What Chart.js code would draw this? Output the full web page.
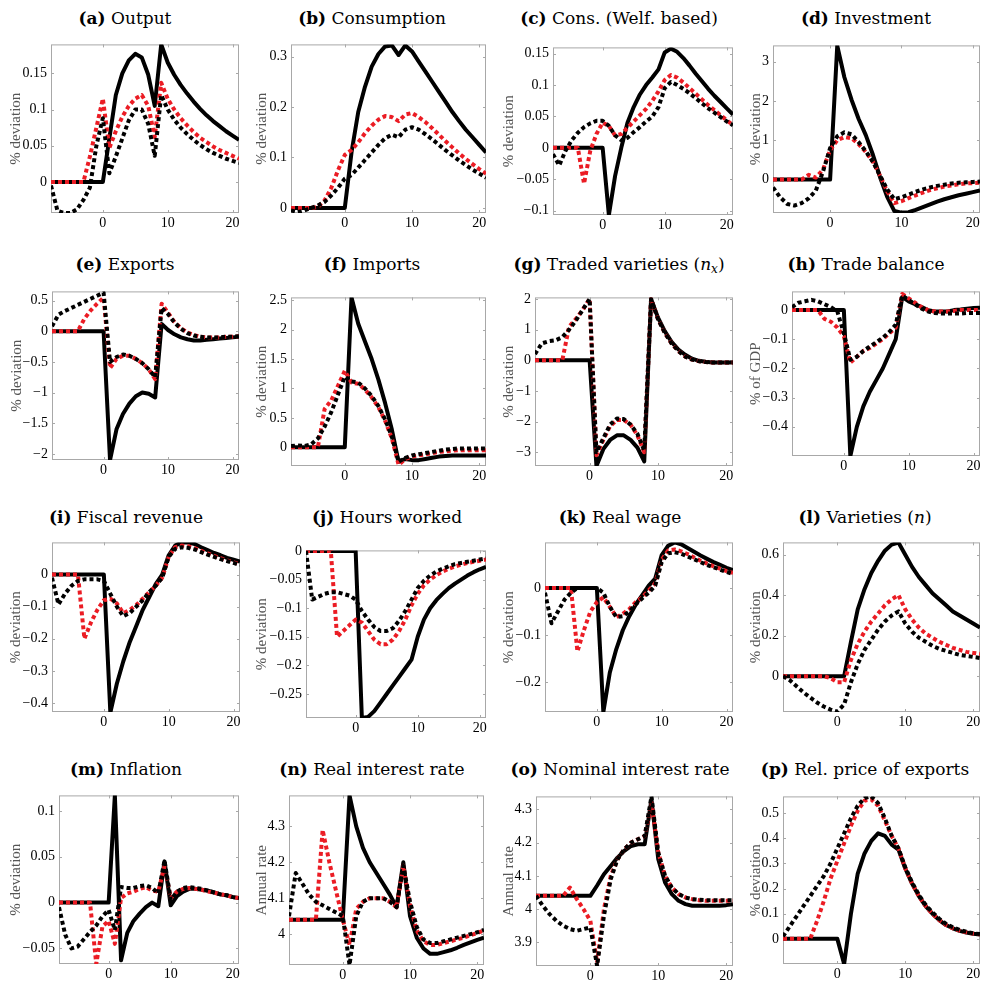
<!DOCTYPE html>
<html>
<head>
<meta charset="utf-8">
<script src="https://cdn.jsdelivr.net/npm/chart.js@4.4.0/dist/chart.umd.min.js"></script>
<style>
  body { margin: 0; background: #fff; overflow: hidden; width: 981px; height: 985px; position: relative; }
  .ttl { position: absolute; width: 320px; text-align: center; font-family: "DejaVu Serif", serif;
         font-size: 17px; line-height: 20px; color: #000; white-space: nowrap; }
  .ttl sub { font-size: 12px; line-height: 0; vertical-align: -3px; }
  canvas { position: absolute; }
</style>
</head>
<body>
<script>
// periods (quarters) on the x axis
const periods = [-8, -7, -6, -5, -4, -3, -2, -1, 0, 1, 2, 3, 4, 5, 6, 7, 8, 9, 10, 11, 12, 13, 14, 15, 16, 17, 18, 19, 20, 21];
const xTicks = [0, 10, 20];

// (a) Output
const outputSolid = [0, 0, 0, 0, 0, 0, 0, 0, 0, 0.06, 0.12, 0.15, 0.168, 0.177, 0.172, 0.148, 0.105, 0.19, 0.165, 0.148, 0.134, 0.122, 0.111, 0.101, 0.092, 0.084, 0.077, 0.07, 0.064, 0.058];
const outputRed = [0, 0, 0, 0, 0, 0, 0.035, 0.075, 0.115, 0.047, 0.07, 0.09, 0.105, 0.115, 0.12, 0.105, 0.062, 0.137, 0.115, 0.1, 0.088, 0.078, 0.069, 0.061, 0.055, 0.049, 0.044, 0.04, 0.036, 0.032];
const outputDash = [-0.005, -0.04, -0.043, -0.043, -0.038, -0.025, -0.008, 0.05, 0.088, 0.012, 0.035, 0.06, 0.085, 0.1, 0.1, 0.08, 0.036, 0.12, 0.1, 0.086, 0.075, 0.066, 0.058, 0.051, 0.045, 0.04, 0.036, 0.032, 0.029, 0.026];
const outputTicks = [0, 0.05, 0.1, 0.15];
const outputRange = [-0.043, 0.19];

// (b) Consumption
const consSolid = [0, 0, 0, 0, 0, 0, 0, 0, 0, 0.11, 0.19, 0.24, 0.28, 0.305, 0.32, 0.322, 0.303, 0.322, 0.31, 0.29, 0.27, 0.25, 0.23, 0.21, 0.19, 0.172, 0.155, 0.14, 0.125, 0.11];
const consRed = [0, 0, 0, 0, 0.002, 0.015, 0.04, 0.075, 0.105, 0.115, 0.13, 0.148, 0.163, 0.175, 0.182, 0.18, 0.172, 0.185, 0.188, 0.18, 0.17, 0.158, 0.145, 0.132, 0.12, 0.108, 0.097, 0.087, 0.077, 0.068];
const consDash = [-0.005, -0.008, -0.005, 0, 0.005, 0.012, 0.025, 0.04, 0.058, 0.065, 0.08, 0.095, 0.11, 0.125, 0.138, 0.145, 0.14, 0.155, 0.16, 0.155, 0.146, 0.136, 0.125, 0.114, 0.104, 0.094, 0.085, 0.076, 0.068, 0.06];
const consTicks = [0, 0.1, 0.2, 0.3];
const consRange = [-0.01, 0.324];

// (c) Cons. (Welf. based)
const welfSolid = [0, 0, 0, 0, 0, 0, 0, 0, 0, -0.107, -0.045, 0.0, 0.04, 0.065, 0.085, 0.1, 0.112, 0.125, 0.152, 0.158, 0.153, 0.143, 0.131, 0.118, 0.106, 0.094, 0.083, 0.073, 0.063, 0.053];
const welfRed = [0, 0, 0, 0, 0, -0.057, -0.005, 0.022, 0.04, 0.035, 0.02, 0.022, 0.032, 0.042, 0.052, 0.062, 0.075, 0.09, 0.108, 0.116, 0.112, 0.104, 0.095, 0.086, 0.077, 0.068, 0.06, 0.052, 0.044, 0.036];
const welfDash = [-0.01, -0.028, -0.005, 0.012, 0.024, 0.033, 0.039, 0.043, 0.043, 0.035, 0.02, 0.012, 0.016, 0.025, 0.033, 0.042, 0.05, 0.065, 0.095, 0.105, 0.1, 0.094, 0.087, 0.079, 0.071, 0.063, 0.056, 0.049, 0.042, 0.036];
const welfTicks = [-0.1, -0.05, 0, 0.05, 0.1, 0.15];
const welfRange = [-0.107, 0.16];

// (d) Investment
const invSolid = [0, 0, 0, 0, 0, 0, 0, 0, 0, 3.4, 2.6, 2.03, 1.54, 1.13, 0.63, 0.06, -0.44, -0.8, -0.84, -0.83, -0.77, -0.7, -0.63, -0.56, -0.5, -0.45, -0.4, -0.36, -0.32, -0.28];
const invRed = [0, 0, 0, 0, 0, 0.12, 0.05, 0.25, 0.75, 1.0, 1.08, 1.05, 0.9, 0.7, 0.45, 0.1, -0.3, -0.6, -0.55, -0.47, -0.4, -0.33, -0.27, -0.22, -0.18, -0.15, -0.12, -0.1, -0.09, -0.08];
const invDash = [-0.2, -0.45, -0.62, -0.66, -0.6, -0.48, -0.28, 0.2, 0.8, 1.1, 1.2, 1.15, 0.95, 0.72, 0.45, 0.1, -0.25, -0.5, -0.45, -0.38, -0.31, -0.25, -0.2, -0.16, -0.13, -0.1, -0.08, -0.07, -0.06, -0.05];
const invTicks = [0, 1, 2, 3];
const invRange = [-0.85, 3.41];

// (e) Exports
const expSolid = [0, 0, 0, 0, 0, 0, 0, 0, 0, -2.1, -1.6, -1.35, -1.18, -1.06, -1.0, -1.02, -1.08, 0.12, 0.02, -0.05, -0.1, -0.13, -0.15, -0.15, -0.14, -0.13, -0.12, -0.11, -0.1, -0.09];
const expRed = [0, 0, 0, 0, 0, 0.2, 0.34, 0.45, 0.55, -0.6, -0.45, -0.4, -0.4, -0.45, -0.52, -0.62, -0.78, 0.45, 0.3, 0.15, 0.05, -0.02, -0.06, -0.09, -0.1, -0.1, -0.1, -0.09, -0.09, -0.08];
const expDash = [0.08, 0.27, 0.33, 0.38, 0.43, 0.48, 0.53, 0.58, 0.63, -0.5, -0.42, -0.38, -0.4, -0.45, -0.52, -0.62, -0.75, 0.38, 0.28, 0.14, 0.04, -0.03, -0.07, -0.09, -0.1, -0.1, -0.1, -0.09, -0.09, -0.08];
const expTicks = [-2, -1.5, -1, -0.5, 0, 0.5];
const expRange = [-2.1, 0.65];

// (f) Imports
const impSolid = [0, 0, 0, 0, 0, 0, 0, 0, 0, 2.55, 2.1, 1.8, 1.5, 1.15, 0.75, 0.3, -0.25, -0.2, -0.22, -0.22, -0.2, -0.18, -0.16, -0.15, -0.14, -0.14, -0.14, -0.14, -0.14, -0.14];
const impRed = [0, 0, 0, 0, 0, 0.65, 0.8, 1.05, 1.3, 1.1, 1.08, 0.98, 0.85, 0.68, 0.45, 0.15, -0.3, -0.2, -0.16, -0.14, -0.12, -0.1, -0.08, -0.07, -0.06, -0.05, -0.05, -0.05, -0.05, -0.05];
const impDash = [0.02, 0.03, 0.02, 0.05, 0.15, 0.35, 0.6, 0.9, 1.2, 1.12, 1.1, 1.0, 0.87, 0.7, 0.47, 0.18, -0.25, -0.18, -0.14, -0.12, -0.1, -0.08, -0.06, -0.04, -0.03, -0.02, -0.02, -0.02, -0.02, -0.02];
const impTicks = [0, 0.5, 1, 1.5, 2, 2.5];
const impRange = [-0.32, 2.55];

// (g) Traded varieties (n_x)
const nxSolid = [0, 0, 0, 0, 0, 0, 0, 0, 0, -3.45, -2.9, -2.6, -2.45, -2.45, -2.6, -2.85, -3.3, 2.0, 1.4, 0.95, 0.6, 0.35, 0.18, 0.05, -0.02, -0.05, -0.07, -0.07, -0.07, -0.07];
const nxRed = [0, 0, 0, 0, 0, 1.1, 1.35, 1.65, 2.0, -3.1, -2.6, -2.15, -1.95, -1.95, -2.1, -2.45, -3.0, 2.0, 1.35, 0.9, 0.55, 0.3, 0.12, 0.02, -0.03, -0.06, -0.07, -0.07, -0.07, -0.07];
const nxDash = [0.2, 0.55, 0.62, 0.65, 0.75, 1.0, 1.3, 1.65, 2.0, -3.0, -2.55, -2.1, -1.9, -1.92, -2.1, -2.4, -2.95, 2.0, 1.35, 0.9, 0.55, 0.3, 0.12, 0.02, -0.03, -0.06, -0.07, -0.07, -0.07, -0.07];
const nxTicks = [-3, -2, -1, 0, 1, 2];
const nxRange = [-3.45, 2.05];

// (h) Trade balance
const tbSolid = [0, 0, 0, 0, 0, 0, 0, 0, 0, -0.5, -0.4, -0.33, -0.28, -0.24, -0.2, -0.15, -0.1, 0.045, 0.03, 0.02, 0.01, 0.0, -0.005, -0.005, -0.005, 0.0, 0.002, 0.005, 0.007, 0.008];
const tbRed = [0, 0, 0, 0, 0, -0.03, -0.04, -0.06, -0.09, -0.18, -0.16, -0.14, -0.13, -0.115, -0.1, -0.08, -0.06, 0.055, 0.04, 0.025, 0.01, 0.0, -0.005, -0.005, -0.005, -0.003, 0.0, 0.0, 0.0, 0.0];
const tbDash = [0.01, 0.025, 0.03, 0.035, 0.03, 0.02, 0.01, -0.005, -0.08, -0.17, -0.16, -0.14, -0.125, -0.11, -0.095, -0.075, -0.05, 0.05, 0.035, 0.02, 0.005, -0.005, -0.01, -0.012, -0.012, -0.012, -0.012, -0.01, -0.01, -0.01];
const tbTicks = [-0.4, -0.3, -0.2, -0.1, 0];
const tbRange = [-0.5, 0.064];

// (i) Fiscal revenue
const fiscSolid = [0, 0, 0, 0, 0, 0, 0, 0, 0, -0.43, -0.34, -0.27, -0.21, -0.16, -0.11, -0.07, -0.03, 0.0, 0.06, 0.09, 0.1, 0.1, 0.095, 0.085, 0.076, 0.067, 0.06, 0.052, 0.046, 0.04];
const fiscRed = [0, 0, 0, 0, 0, -0.2, -0.15, -0.11, -0.08, -0.075, -0.09, -0.12, -0.11, -0.095, -0.075, -0.055, -0.035, -0.01, 0.055, 0.085, 0.09, 0.088, 0.082, 0.074, 0.066, 0.058, 0.051, 0.044, 0.038, 0.032];
const fiscDash = [-0.01, -0.093, -0.06, -0.035, -0.02, -0.015, -0.015, -0.015, -0.02, -0.06, -0.1, -0.13, -0.12, -0.1, -0.08, -0.055, -0.035, -0.01, 0.055, 0.08, 0.085, 0.083, 0.078, 0.07, 0.062, 0.055, 0.048, 0.042, 0.036, 0.03];
const fiscTicks = [-0.4, -0.3, -0.2, -0.1, 0];
const fiscRange = [-0.428, 0.1];

// (j) Hours worked
const hoursSolid = [0, 0, 0, 0, 0, 0, 0, 0, 0, -0.292, -0.29, -0.28, -0.265, -0.25, -0.235, -0.22, -0.205, -0.19, -0.15, -0.12, -0.1, -0.086, -0.075, -0.065, -0.057, -0.05, -0.043, -0.037, -0.032, -0.028];
const hoursRed = [0, 0, 0, 0, 0, -0.15, -0.14, -0.13, -0.12, -0.125, -0.14, -0.155, -0.163, -0.163, -0.155, -0.14, -0.12, -0.095, -0.075, -0.06, -0.05, -0.042, -0.036, -0.031, -0.027, -0.024, -0.021, -0.019, -0.017, -0.015];
const hoursDash = [0, -0.085, -0.08, -0.075, -0.072, -0.072, -0.075, -0.078, -0.085, -0.105, -0.12, -0.133, -0.14, -0.14, -0.135, -0.122, -0.105, -0.085, -0.065, -0.052, -0.043, -0.036, -0.031, -0.027, -0.023, -0.021, -0.019, -0.017, -0.015, -0.013];
const hoursTicks = [-0.25, -0.2, -0.15, -0.1, -0.05, 0];
const hoursRange = [-0.292, 0.001];

// (k) Real wage
const wageSolid = [0, 0, 0, 0, 0, 0, 0, 0, 0, -0.264, -0.18, -0.13, -0.09, -0.06, -0.035, -0.015, 0.005, 0.02, 0.07, 0.09, 0.097, 0.093, 0.085, 0.077, 0.069, 0.062, 0.055, 0.049, 0.043, 0.038];
const wageRed = [0, 0, 0, 0, 0, -0.135, -0.09, -0.05, -0.03, -0.02, -0.04, -0.062, -0.055, -0.045, -0.03, -0.02, -0.005, 0.01, 0.06, 0.08, 0.082, 0.078, 0.072, 0.065, 0.058, 0.052, 0.046, 0.041, 0.036, 0.032];
const wageDash = [-0.01, -0.075, -0.05, -0.025, -0.01, 0, 0, 0, 0, -0.01, -0.04, -0.062, -0.06, -0.05, -0.035, -0.022, -0.01, 0.005, 0.055, 0.074, 0.076, 0.073, 0.067, 0.061, 0.055, 0.049, 0.044, 0.039, 0.034, 0.03];
const wageTicks = [-0.2, -0.1, 0];
const wageRange = [-0.264, 0.097];

// (l) Varieties (n)
const nSolid = [0, 0, 0, 0, 0, 0, 0, 0, 0, 0, 0.17, 0.33, 0.43, 0.51, 0.57, 0.62, 0.65, 0.66, 0.6, 0.54, 0.49, 0.45, 0.41, 0.38, 0.35, 0.32, 0.3, 0.28, 0.26, 0.24];
const nRed = [0, 0, 0, 0, 0, 0, 0, -0.01, -0.03, -0.03, 0.08, 0.16, 0.22, 0.27, 0.31, 0.35, 0.38, 0.4, 0.33, 0.28, 0.24, 0.21, 0.19, 0.17, 0.155, 0.14, 0.13, 0.12, 0.115, 0.11];
const nDash = [0, -0.02, -0.05, -0.08, -0.105, -0.13, -0.15, -0.165, -0.175, -0.14, -0.03, 0.06, 0.13, 0.18, 0.23, 0.27, 0.3, 0.32, 0.26, 0.22, 0.19, 0.17, 0.15, 0.135, 0.125, 0.115, 0.105, 0.1, 0.095, 0.09];
const nTicks = [0, 0.2, 0.4, 0.6];
const nRange = [-0.177, 0.661];

// (m) Inflation
const inflSolid = [0, 0, 0, 0, 0, 0, 0, 0, 0, 0.117, -0.063, -0.033, -0.02, -0.012, -0.005, 0.0, -0.004, 0.045, -0.003, 0.007, 0.012, 0.015, 0.015, 0.014, 0.013, 0.011, 0.009, 0.008, 0.006, 0.005];
const inflRed = [0, 0, 0, 0, 0, 0, -0.067, -0.026, -0.02, -0.045, 0.005, 0.01, 0.012, 0.015, 0.017, 0.013, 0.012, 0.04, 0.005, 0.012, 0.015, 0.016, 0.015, 0.014, 0.012, 0.011, 0.009, 0.008, 0.006, 0.005];
const inflDash = [-0.005, -0.035, -0.05, -0.048, -0.04, -0.032, -0.025, -0.015, -0.008, -0.03, 0.017, 0.016, 0.016, 0.018, 0.019, 0.016, 0.01, 0.046, 0.003, 0.012, 0.016, 0.017, 0.016, 0.015, 0.013, 0.011, 0.009, 0.008, 0.006, 0.005];
const inflTicks = [-0.05, 0, 0.05, 0.1];
const inflRange = [-0.067, 0.117];

// (n) Real interest rate
const rrSolid = [4.04, 4.04, 4.04, 4.04, 4.04, 4.04, 4.04, 4.04, 4.04, 4.386, 4.3, 4.24, 4.2, 4.17, 4.14, 4.11, 4.075, 4.2, 4.05, 3.99, 3.96, 3.945, 3.945, 3.95, 3.955, 3.962, 3.97, 3.977, 3.984, 3.99];
const rrRed = [4.04, 4.04, 4.04, 4.04, 4.04, 4.29, 4.2, 4.12, 4.04, 3.97, 4.07, 4.09, 4.1, 4.1, 4.1, 4.09, 4.075, 4.19, 4.08, 4.01, 3.98, 3.97, 3.97, 3.975, 3.98, 3.985, 3.99, 3.997, 4.003, 4.01];
const rrDash = [4.05, 4.17, 4.14, 4.11, 4.09, 4.08, 4.07, 4.06, 4.05, 3.914, 4.05, 4.09, 4.1, 4.1, 4.1, 4.09, 4.075, 4.19, 4.09, 4.02, 3.985, 3.975, 3.975, 3.98, 3.985, 3.99, 3.995, 4.0, 4.005, 4.012];
const rrTicks = [4, 4.1, 4.2, 4.3];
const rrRange = [3.914, 4.386];

// (o) Nominal interest rate
const nomSolid = [4.04, 4.04, 4.04, 4.04, 4.04, 4.04, 4.04, 4.04, 4.04, 4.071, 4.105, 4.13, 4.155, 4.175, 4.19, 4.195, 4.195, 4.33, 4.15, 4.08, 4.045, 4.025, 4.015, 4.01, 4.01, 4.01, 4.01, 4.01, 4.012, 4.015];
const nomRed = [4.04, 4.04, 4.04, 4.04, 4.04, 4.065, 4.03, 4.0, 3.965, 3.84, 4.0, 4.1, 4.15, 4.18, 4.2, 4.21, 4.22, 4.32, 4.17, 4.1, 4.065, 4.045, 4.035, 4.03, 4.027, 4.025, 4.025, 4.025, 4.025, 4.025];
const nomDash = [4.04, 4.01, 3.985, 3.965, 3.95, 3.94, 3.935, 3.94, 3.945, 3.829, 3.98, 4.09, 4.15, 4.18, 4.2, 4.21, 4.22, 4.339, 4.17, 4.1, 4.065, 4.045, 4.035, 4.03, 4.028, 4.027, 4.027, 4.027, 4.027, 4.027];
const nomTicks = [3.9, 4, 4.1, 4.2, 4.3];
const nomRange = [3.829, 4.339];

// (p) Rel. price of exports
const pxSolid = [0, 0, 0, 0, 0, 0, 0, 0, 0, -0.1, 0.1, 0.26, 0.34, 0.39, 0.42, 0.41, 0.375, 0.355, 0.28, 0.22, 0.17, 0.13, 0.1, 0.075, 0.055, 0.042, 0.032, 0.025, 0.02, 0.017];
const pxRed = [0, 0, 0, 0, 0, 0.07, 0.15, 0.24, 0.31, 0.38, 0.45, 0.51, 0.55, 0.555, 0.53, 0.47, 0.41, 0.36, 0.28, 0.22, 0.17, 0.13, 0.1, 0.075, 0.055, 0.042, 0.033, 0.026, 0.021, 0.018];
const pxDash = [0.01, 0.05, 0.09, 0.13, 0.17, 0.21, 0.25, 0.3, 0.36, 0.42, 0.48, 0.53, 0.56, 0.567, 0.54, 0.48, 0.41, 0.36, 0.285, 0.225, 0.175, 0.135, 0.105, 0.08, 0.06, 0.046, 0.036, 0.028, 0.022, 0.019];
const pxTicks = [0, 0.1, 0.2, 0.3, 0.4, 0.5];
const pxRange = [-0.1, 0.567];

// panel layout: plot box [left, top, right, bottom], title centre, y-label centre
const panels = [
  { t: '<b>(a)</b> Output', yl: '% deviation', s: [outputSolid, outputRed, outputDash], ticks: outputTicks, r: outputRange, box: [51, 40, 239, 213], tc: [125, 18], yc: 16 },
  { t: '<b>(b)</b> Consumption', yl: '% deviation', s: [consSolid, consRed, consDash], ticks: consTicks, r: consRange, box: [291, 40, 486, 213], tc: [372, 18], yc: 262 },
  { t: '<b>(c)</b> Cons. (Welf. based)', yl: '% deviation', s: [welfSolid, welfRed, welfDash], ticks: welfTicks, r: welfRange, box: [553, 43, 733, 215], tc: [619, 18], yc: 509 },
  { t: '<b>(d)</b> Investment', yl: '% deviation', s: [invSolid, invRed, invDash], ticks: invTicks, r: invRange, box: [773, 41, 980, 213], tc: [866, 18], yc: 756 },
  { t: '<b>(e)</b> Exports', yl: '% deviation', s: [expSolid, expRed, expDash], ticks: expTicks, r: expRange, box: [52, 287, 239, 460], tc: [125, 264], yc: 17 },
  { t: '<b>(f)</b> Imports', yl: '% deviation', s: [impSolid, impRed, impDash], ticks: impTicks, r: impRange, box: [291, 293, 486, 466], tc: [372, 264], yc: 262 },
  { t: '<b>(g)</b> Traded varieties (<i>n</i><sub><i>x</i></sub>)', yl: '% deviation', s: [nxSolid, nxRed, nxDash], ticks: nxTicks, r: nxRange, box: [535, 293, 733, 466], tc: [619, 264], yc: 509 },
  { t: '<b>(h)</b> Trade balance', yl: '% of GDP', s: [tbSolid, tbRed, tbDash], ticks: tbTicks, r: tbRange, box: [792, 287, 980, 456], tc: [866, 264], yc: 756 },
  { t: '<b>(i)</b> Fiscal revenue', yl: '% deviation', s: [fiscSolid, fiscRed, fiscDash], ticks: fiscTicks, r: fiscRange, box: [52, 538, 240, 712], tc: [126, 517], yc: 16 },
  { t: '<b>(j)</b> Hours worked', yl: '% deviation', s: [hoursSolid, hoursRed, hoursDash], ticks: hoursTicks, r: hoursRange, box: [306, 546, 486, 718], tc: [387, 517], yc: 262 },
  { t: '<b>(k)</b> Real wage', yl: '% deviation', s: [wageSolid, wageRed, wageDash], ticks: wageTicks, r: wageRange, box: [545, 538, 733, 712], tc: [620, 517], yc: 509 },
  { t: '<b>(l)</b> Varieties (<i>n</i>)', yl: '% deviation', s: [nSolid, nRed, nDash], ticks: nTicks, r: nRange, box: [783, 538, 980, 712], tc: [865, 517], yc: 756 },
  { t: '<b>(m)</b> Inflation', yl: '% deviation', s: [inflSolid, inflRed, inflDash], ticks: inflTicks, r: inflRange, box: [59, 791, 239, 964], tc: [126, 769], yc: 16 },
  { t: '<b>(n)</b> Real interest rate', yl: 'Annual rate', s: [rrSolid, rrRed, rrDash], ticks: rrTicks, r: rrRange, box: [289, 791, 484, 965], tc: [372, 769], yc: 262 },
  { t: '<b>(o)</b> Nominal interest rate', yl: 'Annual rate', s: [nomSolid, nomRed, nomDash], ticks: nomTicks, r: nomRange, box: [536, 792, 733, 966], tc: [620, 769], yc: 509 },
  { t: '<b>(p)</b> Rel. price of exports', yl: '% deviation', s: [pxSolid, pxRed, pxDash], ticks: pxTicks, r: pxRange, box: [783, 792, 980, 964], tc: [865, 769], yc: 756 }
];

const RED = 'rgb(235,28,36)';
const PAD_TOP = 8, PAD_RIGHT = 10, X_AXIS_H = 26;
const TITLE_SIZE = 15;
const tickFont = { family: '"Liberation Serif", serif', size: 14 };

function fmt(v) {
  return v < 0 ? '\u2212' + String(-v) : String(v);
}

// matlab style box with inward ticks on all four sides
const axesBox = {
  id: 'axesBox',
  beforeDatasetsDraw(chart) {
    const { ctx, chartArea: a, scales } = chart;
    ctx.save();
    ctx.strokeStyle = '#a8a8a8';
    ctx.lineWidth = 1;
    ctx.strokeRect(a.left + 0.5, a.top + 0.5, a.right - a.left - 1, a.bottom - a.top - 1);
    ctx.beginPath();
    scales.x.ticks.forEach(t => {
      const px = Math.round(scales.x.getPixelForValue(t.value)) + 0.5;
      ctx.moveTo(px, a.bottom); ctx.lineTo(px, a.bottom - 3);
      ctx.moveTo(px, a.top); ctx.lineTo(px, a.top + 3);
    });
    scales.y.ticks.forEach(t => {
      const py = Math.round(scales.y.getPixelForValue(t.value)) + 0.5;
      ctx.moveTo(a.left, py); ctx.lineTo(a.left + 3, py);
      ctx.moveTo(a.right, py); ctx.lineTo(a.right - 3, py);
    });
    ctx.stroke();
    ctx.restore();
  }
};

panels.forEach(p => {
  const [L, T, R, B] = p.box;

  const ttl = document.createElement('div');
  ttl.className = 'ttl';
  ttl.innerHTML = p.t;
  ttl.style.left = (p.tc[0] - 160) + 'px';
  ttl.style.top = (p.tc[1] - 10) + 'px';
  document.body.appendChild(ttl);

  const left = Math.round(p.yc - TITLE_SIZE * 0.6);
  const top = T - PAD_TOP;
  const cv = document.createElement('canvas');
  cv.width = R - left + PAD_RIGHT;
  cv.height = B - top + X_AXIS_H;
  cv.style.left = left + 'px';
  cv.style.top = top + 'px';
  document.body.appendChild(cv);
  const yW = L - left;

  const xy = arr => arr.map((v, i) => ({ x: periods[i], y: v }));

  new Chart(cv, {
    type: 'line',
    data: {
      datasets: [
        { data: xy(p.s[2]), borderColor: '#000', borderDash: [4, 3], order: 0 },
        { data: xy(p.s[1]), borderColor: RED, borderDash: [4, 3], order: 1 },
        { data: xy(p.s[0]), borderColor: '#000', order: 2 }
      ]
    },
    options: {
      responsive: false,
      animation: false,
      events: [],
      layout: { padding: { top: PAD_TOP, right: PAD_RIGHT, left: 0, bottom: 0 } },
      plugins: { legend: { display: false }, tooltip: { enabled: false } },
      elements: {
        line: { borderWidth: 4, tension: 0, fill: false, borderCapStyle: 'butt', borderJoinStyle: 'round' },
        point: { radius: 0 }
      },
      datasets: { line: { clip: 0 } },
      scales: {
        x: {
          type: 'linear', min: -8, max: 21,
          grid: { display: false, drawTicks: false }, border: { display: false },
          afterBuildTicks: s => { s.ticks = xTicks.map(v => ({ value: v })); },
          afterFit: s => { s.height = X_AXIS_H; },
          ticks: { padding: 2, font: tickFont, color: '#000', maxRotation: 0, autoSkip: false }
        },
        y: {
          min: p.r[0], max: p.r[1],
          grid: { display: false, drawTicks: false }, border: { display: false },
          afterBuildTicks: s => { s.ticks = p.ticks.map(v => ({ value: v })); },
          afterFit: s => { s.width = yW; },
          ticks: { padding: 4, font: tickFont, color: '#000', autoSkip: false, callback: v => fmt(v) },
          title: { display: true, text: p.yl, padding: 0, color: '#555',
                   font: { family: '"Liberation Serif", serif', size: TITLE_SIZE, lineHeight: 1.2 } }
        }
      }
    },
    plugins: [axesBox]
  });
});
</script>
</body>
</html>
